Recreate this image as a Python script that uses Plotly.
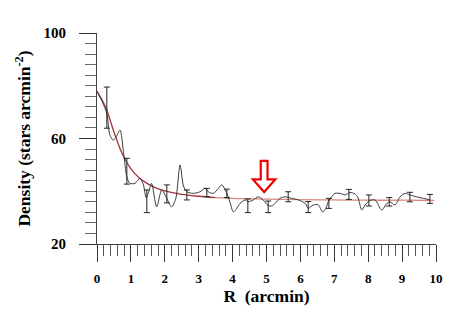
import plotly.graph_objects as go

# radial density profile (wiggly curve)
prof_r = [0.00, 0.15, 0.29, 0.38, 0.48, 0.58, 0.68, 0.78, 0.88, 0.97, 1.12, 1.27, 1.37, 1.45,
          1.53, 1.61, 1.76, 1.91, 2.05, 2.20, 2.32, 2.45, 2.55, 2.65, 2.84, 3.04, 3.19, 3.28,
          3.43, 3.58, 3.68, 3.83, 3.92, 4.02, 4.12, 4.22, 4.37, 4.46, 4.61, 4.76, 4.90, 5.05,
          5.15, 5.25, 5.40, 5.55, 5.74, 5.94, 6.14, 6.23, 6.38, 6.53, 6.65, 6.75, 6.82, 6.92,
          7.02, 7.17, 7.32, 7.46, 7.61, 7.70, 7.81, 7.91, 8.05, 8.20, 8.40, 8.55, 8.64, 8.79,
          8.94, 9.09, 9.23, 9.43, 9.63, 9.82]
prof_d = [77.7, 74.0, 69.5, 61.3, 59.4, 61.0, 63.2, 55.0, 45.5, 43.0, 43.0, 44.9, 42.4, 37.5,
          40.0, 43.0, 34.1, 40.5, 37.5, 34.1, 37.0, 50.0, 42.0, 39.8, 39.2, 39.8, 41.1, 39.8,
          39.2, 41.1, 42.4, 39.2, 36.0, 32.2, 33.5, 35.4, 36.7, 36.0, 36.7, 37.9, 36.7, 34.6,
          34.4, 35.4, 37.3, 37.9, 37.3, 36.7, 35.4, 33.5, 34.8, 34.8, 32.2, 33.5, 36.0, 37.9,
          39.2, 39.2, 38.6, 39.5, 39.0, 37.5, 32.9, 34.8, 36.5, 36.7, 32.9, 35.4, 36.0, 34.8,
          37.9, 39.2, 38.6, 37.9, 37.3, 36.7]

# binned points with error bars
bin_r = [0.29, 0.88, 1.47, 2.06, 2.65, 3.24, 3.83, 4.45, 5.05, 5.64, 6.23, 6.84, 7.43,
         8.02, 8.62, 9.23, 9.82]
bin_d = [71.7, 47.6, 36.2, 39.0, 38.6, 39.5, 39.2, 34.5, 34.1, 37.9, 34.0, 35.4, 38.8,
         36.5, 36.0, 37.8, 37.1]
bin_err = [7.8, 4.9, 4.3, 3.4, 1.9, 1.6, 1.6, 2.6, 2.2, 1.9, 2.1, 1.9, 1.9, 2.1, 1.6, 1.8, 1.7]

# King profile fit
fit_r1 = [0.0, 0.25, 0.5, 0.75, 1.0, 1.25, 1.5, 1.75, 2.0, 2.5, 3.0, 3.5]
fit_d1 = [78.0, 72.0, 62.5, 54.0, 48.5, 45.0, 42.8, 41.2, 40.1, 38.8, 38.1, 37.6]
fit_r2 = [3.5, 4.0, 5.0, 6.0, 7.0, 8.0, 9.0, 9.95]
fit_d2 = [37.6, 37.3, 37.0, 36.8, 36.7, 36.6, 36.6, 36.5]

arrow_x, arrow_tip, arrow_top = 4.93, 39.7, 51.5

serif = "Liberation Serif"

fig = go.Figure()

fig.add_trace(go.Scatter(x=fit_r1, y=fit_d1, mode="lines", line=dict(color="#a8323a", width=1.3, shape="spline")))
fig.add_trace(go.Scatter(x=fit_r2, y=fit_d2, mode="lines", line=dict(color="#d88a7c", width=1.3, shape="spline")))
fig.add_trace(go.Scatter(x=prof_r, y=prof_d, mode="lines", line=dict(color="#3c3c3c", width=1, shape="spline", smoothing=0.8)))
fig.add_trace(go.Scatter(
    x=bin_r, y=bin_d, mode="markers", marker=dict(size=1, color="rgba(0,0,0,0)"),
    error_y=dict(type="data", array=bin_err, color="#222222", thickness=1, width=3)
))

# hollow red arrow
hw, sw, hb = 0.33, 0.1, 44.5
path = (f"M {arrow_x - sw} {arrow_top} L {arrow_x + sw} {arrow_top} L {arrow_x + sw} {hb} "
        f"L {arrow_x + hw} {hb} L {arrow_x} {arrow_tip} L {arrow_x - hw} {hb} L {arrow_x - sw} {hb} Z")
fig.add_shape(type="path", path=path, xref="x", yref="y",
              line=dict(color="#ee0000", width=2.2), fillcolor="white")

fig.update_layout(
    width=463, height=327,
    margin=dict(l=89, r=35, t=25, b=91),
    paper_bgcolor="white", plot_bgcolor="white",
    showlegend=False,
    xaxis=dict(
        range=[0, 10], showgrid=False, zeroline=False, automargin=False,
        showline=True, linecolor="#444", linewidth=1,
        ticks="outside", ticklen=17, tickwidth=1, tickcolor="#333",
        tick0=0, dtick=1, ticklabelstandoff=5,
        minor=dict(ticks="outside", ticklen=11, dtick=0.2, tickcolor="#555", showgrid=False),
        tickfont=dict(family=serif, size=13, color="black", weight="bold"),
        title=dict(text="R  (arcmin)", font=dict(family=serif, size=17.5, color="black", weight="bold"), standoff=5),
    ),
    yaxis=dict(
        range=[20, 100], showgrid=False, zeroline=False, automargin=False,
        showline=True, linecolor="#444", linewidth=1,
        ticks="outside", ticklen=17, tickwidth=1, tickcolor="#333",
        tick0=20, dtick=40, ticklabelstandoff=10,
        minor=dict(ticks="outside", ticklen=11, dtick=4, tickcolor="#666", showgrid=False),
        tickfont=dict(family=serif, size=15, color="black", weight="bold"),
        title=dict(text="Density (stars arcmin<sup>-2</sup>)", font=dict(family=serif, size=17.5, color="black", weight="bold"), standoff=8),
    ),
)

fig.write_html("out.html")
